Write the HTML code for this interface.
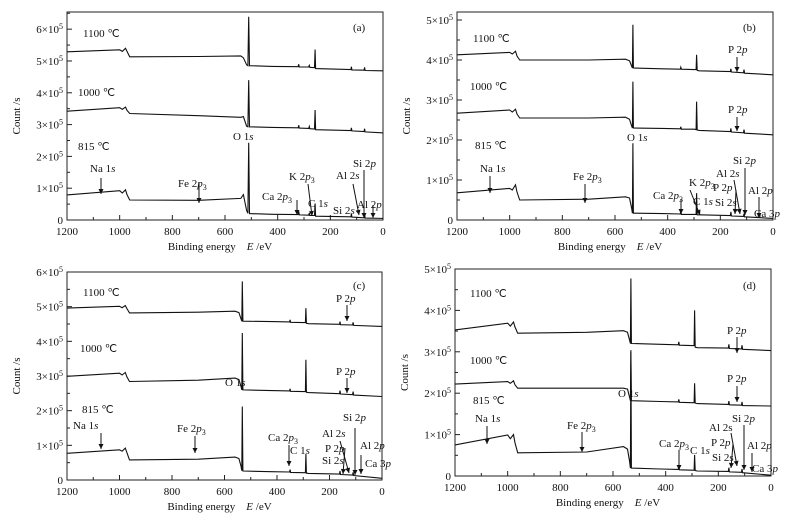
<!DOCTYPE html>
<html><head><meta charset="utf-8"><style>
html,body{margin:0;padding:0;background:#fff}
svg{display:block;font-family:"Liberation Serif","Times New Roman",serif}
text{fill:#111;font-size:11px}
</style></head><body>
<svg id="fig" width="793" height="525" viewBox="0 0 793 525" xmlns="http://www.w3.org/2000/svg">
</svg>
<script>
// ---- data (binding energy eV, count in 1e5 /s) ----
const energyA = [1200,1000,990,978,972,962,700,540,530,518,513,510,507,420,322,320,318,282,280,278,260,258,256,122,120,118,72,70,68,0];
const a1100 = [5.29,5.35,5.3,5.4,5.3,5.13,5.14,5.16,5.1,4.88,4.85,6.39,4.85,4.83,4.82,4.9,4.81,4.81,4.86,4.8,4.79,5.36,4.76,4.73,4.82,4.72,4.71,4.8,4.7,4.69];
const a1000 = [3.42,3.53,3.48,3.55,3.45,3.35,3.28,3.23,3.25,2.95,2.93,4.4,2.93,2.91,2.9,2.98,2.89,2.88,2.94,2.87,2.86,3.46,2.84,2.81,2.9,2.8,2.78,2.87,2.77,2.74];
const a815 = [0.79,0.92,0.85,0.95,0.8,0.63,0.62,0.68,0.8,0.3,0.21,2.43,0.2,0.18,0.17,0.27,0.16,0.15,0.22,0.14,0.14,0.52,0.12,0.1,0.2,0.09,0.07,0.2,0.06,0.05];
const energyB = [1200,1000,990,978,972,962,700,560,545,537,534,532,530,420,352,350,348,300,292,290,288,280,162,160,158,112,110,108,0];
const b1100 = [4.13,4.19,4.15,4.22,4.1,4.0,4.0,4.02,3.98,3.85,3.8,4.88,3.8,3.78,3.77,3.82,3.77,3.76,3.76,4.13,3.74,3.73,3.71,3.78,3.7,3.68,3.76,3.67,3.63];
const b1000 = [2.67,2.75,2.7,2.77,2.65,2.55,2.55,2.57,2.52,2.35,2.3,3.46,2.3,2.29,2.28,2.33,2.27,2.27,2.26,2.96,2.25,2.24,2.21,2.29,2.2,2.18,2.26,2.17,2.13];
const b815 = [0.68,0.79,0.75,0.88,0.7,0.5,0.52,0.58,0.55,0.3,0.17,1.92,0.17,0.16,0.15,0.24,0.14,0.14,0.14,0.67,0.13,0.13,0.11,0.2,0.1,0.09,0.16,0.08,0.04];
const c1100 = [4.96,5.01,4.97,5.03,4.95,4.82,4.84,4.87,4.83,4.65,4.58,5.73,4.58,4.57,4.56,4.62,4.55,4.54,4.54,4.96,4.52,4.51,4.49,4.57,4.48,4.47,4.55,4.46,4.43];
const c1000 = [2.99,3.08,3.03,3.1,2.98,2.84,2.88,2.94,2.9,2.7,2.6,4.24,2.6,2.58,2.57,2.63,2.56,2.55,2.55,3.47,2.53,2.52,2.49,2.58,2.48,2.46,2.55,2.45,2.41];
const c815 = [0.77,0.87,0.83,0.92,0.8,0.58,0.6,0.66,0.62,0.4,0.27,2.12,0.26,0.24,0.23,0.3,0.22,0.21,0.21,0.75,0.2,0.19,0.17,0.26,0.16,0.14,0.22,0.13,0.05];
const d1100 = [3.53,3.69,3.62,3.72,3.6,3.45,3.47,3.51,3.47,3.28,3.2,4.77,3.2,3.18,3.17,3.24,3.16,3.15,3.15,4.0,3.11,3.1,3.09,3.18,3.08,3.07,3.16,3.06,3.03];
const d1000 = [2.22,2.28,2.24,2.3,2.2,2.12,2.12,2.12,2.1,1.9,1.82,3.0,1.82,1.8,1.79,1.85,1.78,1.77,1.77,2.24,1.76,1.75,1.73,1.81,1.72,1.71,1.79,1.7,1.69];
const d815 = [0.75,0.99,0.9,1.0,0.8,0.56,0.58,0.71,0.65,0.35,0.19,3.04,0.19,0.17,0.16,0.24,0.15,0.14,0.14,0.51,0.13,0.12,0.11,0.2,0.1,0.09,0.17,0.08,0.02];
const xTicks = [1200,1000,800,600,400,200,0];
const yTicksA = [0,1,2,3,4,5,6];
const yTicksB = [0,1,2,3,4,5];

const NS="http://www.w3.org/2000/svg";
const svg=document.getElementById('fig');
function mk(tag,attrs,parent){const e=document.createElementNS(NS,tag);for(const k in attrs)e.setAttribute(k,attrs[k]);(parent||svg).appendChild(e);return e;}

const panels=[
 {id:'a',x0:67,x1:383,yb:220,yt:12,ymax:6.54,yTicks:yTicksA,energy:energyA,series:[a1100,a1000,a815],names:['1100','1000','815']},
 {id:'b',x0:457,x1:773,yb:220,yt:12,ymax:5.2,yTicks:yTicksB,energy:energyB,series:[b1100,b1000,b815],names:['1100','1000','815']},
 {id:'c',x0:67,x1:382,yb:480,yt:272,ymax:6,yTicks:yTicksA,energy:energyB,series:[c1100,c1000,c815],names:['1100','1000','815']},
 {id:'d',x0:455,x1:771,yb:476,yt:269,ymax:5,yTicks:yTicksB,energy:energyB,series:[d1100,d1000,d815],names:['1100','1000','815']}
];

panels.forEach(p=>{
 const g=mk('g',{});
 
 
 const X=e=>p.x0+(1200-e)/1200*(p.x1-p.x0);
 const Y=v=>p.yb-v/p.ymax*(p.yb-p.yt);
 const box=mk('rect',{x:p.x0,y:p.yt,width:p.x1-p.x0,height:p.yb-p.yt,fill:'none',stroke:'#222','stroke-width':1},g);
 
 
 for(let e=1200;e>=0;e-=100){const big=e%200===0;mk('line',{x1:X(e),x2:X(e),y1:p.yb,y2:p.yb-(big?5:3),stroke:'#222'},g);}
 xTicks.forEach(e=>{const t=mk('text',{x:X(e),y:p.yb+15,'text-anchor':'middle'},g);t.textContent=e;
  
  });
 for(let v=0;v<=p.ymax;v+=0.5){const big=Math.abs(v%1)<1e-9;mk('line',{x1:p.x0,x2:p.x0+(big?5:3),y1:Y(v),y2:Y(v),stroke:'#222'},g);}
 p.yTicks.forEach(v=>{const t=mk('text',{x:p.x0-4,y:Y(v)+4,'text-anchor':'end'},g);
  
  
  if(v===0){t.textContent='0';}else{t.textContent=v+'×10';const s=mk('tspan',{dy:-4,'font-size':8},t);s.textContent='5';}});
 const xl=mk('text',{x:(p.x0+p.x1)/2-5,y:p.yb+30,'text-anchor':'middle','font-size':11.5},g);
 
 
 xl.innerHTML='Binding energy &#160;&#160;&#160;<tspan font-style="italic">E</tspan> /eV';
 const yl=mk('text',{x:0,y:0,'text-anchor':'middle','font-size':11.5,transform:`translate(${p.x0-47},${(p.yt+p.yb)/2}) rotate(-90)`},g);
 
 
 yl.textContent='Count /s';
 p.series.forEach((s,i)=>{
  const d=p.energy.map((e,k)=>(k?'L':'M')+X(e).toFixed(1)+','+Y(s[k]).toFixed(1)).join(' ');
  const path=mk('path',{d:d,fill:'none',stroke:'#111','stroke-width':1.1},g);
  
  
 });
});

function label(str,x,y,name){
 const t=mk('text',{x:x,y:y});
 
 
 t.innerHTML=str;return t;}
function arrow(x1,y1,x2,y2){
 const l=mk('line',{x1:x1,y1:y1,x2:x2,y2:y2,stroke:'#111','stroke-width':1});
 
 
 const ang=Math.atan2(y2-y1,x2-x1);const s=5;
 const pth=`M${x2},${y2} L${x2-s*Math.cos(ang)+2.5*Math.sin(ang)},${y2-s*Math.sin(ang)-2.5*Math.cos(ang)} L${x2-s*Math.cos(ang)-2.5*Math.sin(ang)},${y2-s*Math.sin(ang)+2.5*Math.cos(ang)} Z`;
 const h=mk('path',{d:pth,fill:'#111'});
 
 }
const I=s=>`<tspan font-style="italic">${s}</tspan>`;
const P3=`2${I('p')}<tspan font-size="8" dy="3">3</tspan>`;
// (a)
label('1100 ℃',83,37,'temp-label');label('1000 ℃',78,96,'temp-label');label('815 ℃',78,150,'temp-label');
label('(a)',353,31,'panel-label');label('O 1'+I('s'),233,140,'peak-label');
label('Na 1'+I('s'),90,172,'peak-label');arrow(101,178,101,194);
label('Fe '+P3,178,187,'peak-label');arrow(199,182,199,203);
label('Ca '+P3,262,200,'peak-label');arrow(297,200,297,215);
label('K '+P3,289,180,'peak-label');arrow(308,184,312,216);
label('C 1'+I('s'),308,207,'peak-label');
label('Si 2'+I('s'),333,214,'peak-label');
label('Al 2'+I('s'),336,179,'peak-label');arrow(353,184,359,215);
label('Si 2'+I('p'),353,167,'peak-label');arrow(364,170,364,218);
label('Al 2'+I('p'),357,208,'peak-label');arrow(373,205,373,218);
// (b)
label('1100 ℃',473,42,'temp-label');label('1000 ℃',470,90,'temp-label');label('815 ℃',475,149,'temp-label');
label('(b)',743,31,'panel-label');label('O 1'+I('s'),627,141,'peak-label');
label('P 2'+I('p'),728,53,'peak-label');arrow(737,57,737,72);
label('P 2'+I('p'),728,113,'peak-label');arrow(737,117,737,131);
label('Na 1'+I('s'),480,172,'peak-label');arrow(490,176,490,193);
label('Fe '+P3,573,180,'peak-label');arrow(585,184,585,203);
label('K '+P3,689,186,'peak-label');arrow(690,190,700,215);
label('Ca '+P3,653,199,'peak-label');arrow(681,199,681,214);
label('C 1'+I('s'),693,205,'peak-label');
label('P 2'+I('p'),713,191,'peak-label');arrow(736,190,735,214);
label('Al 2'+I('s'),716,177,'peak-label');arrow(734,180,740,214);
label('Si 2'+I('p'),733,164,'peak-label');arrow(745,168,745,215);
label('Si 2'+I('s'),715,206,'peak-label');
label('Al 2'+I('p'),748,194,'peak-label');arrow(759,197,759,218);
label('Ca 3'+I('p'),754,217,'peak-label');
// (c)
label('1100 ℃',83,296,'temp-label');label('1000 ℃',80,352,'temp-label');label('815 ℃',82,413,'temp-label');
label('(c)',353,289,'panel-label');label('O 1'+I('s'),225,386,'peak-label');
label('P 2'+I('p'),336,302,'peak-label');arrow(347,305,347,321);
label('P 2'+I('p'),336,375,'peak-label');arrow(347,378,347,393);
label('Na 1'+I('s'),73,429,'peak-label');arrow(101,433,101,449);
label('Fe '+P3,177,432,'peak-label');arrow(195,436,195,453);
label('Ca '+P3,268,441,'peak-label');arrow(289,445,289,466);
label('C 1'+I('s'),290,454,'peak-label');
label('Si 2'+I('p'),343,421,'peak-label');arrow(355,428,355,475);
label('Al 2'+I('s'),322,437,'peak-label');arrow(340,441,349,473);
label('P 2'+I('p'),325,452,'peak-label');arrow(345,448,343,474);
label('Si 2'+I('s'),322,464,'peak-label');
label('Al 2'+I('p'),360,449,'peak-label');arrow(361,455,361,474);
label('Ca 3'+I('p'),365,467,'peak-label');
// (d)
label('1100 ℃',470,297,'temp-label');label('1000 ℃',470,364,'temp-label');label('815 ℃',473,404,'temp-label');
label('(d)',743,289,'panel-label');label('O 1'+I('s'),618,397,'peak-label');
label('P 2'+I('p'),727,334,'peak-label');arrow(737,337,737,353);
label('P 2'+I('p'),727,382,'peak-label');arrow(737,386,737,402);
label('Na 1'+I('s'),475,422,'peak-label');arrow(487,426,487,444);
label('Fe '+P3,567,429,'peak-label');arrow(582,432,582,452);
label('Ca '+P3,659,447,'peak-label');arrow(679,450,679,470);
label('C 1'+I('s'),690,454,'peak-label');
label('Al 2s',709,431,'peak-label');arrow(731,433,737,466);
label('P 2'+I('p'),711,446,'peak-label');arrow(733,444,731,468);
label('Si 2s',712,461,'peak-label');
label('Si 2'+I('p'),732,422,'peak-label');arrow(744,425,744,470);
label('Al 2'+I('p'),747,449,'peak-label');arrow(752,453,752,472);
label('Ca 3'+I('p'),752,472,'peak-label');
</script>
</body></html>
